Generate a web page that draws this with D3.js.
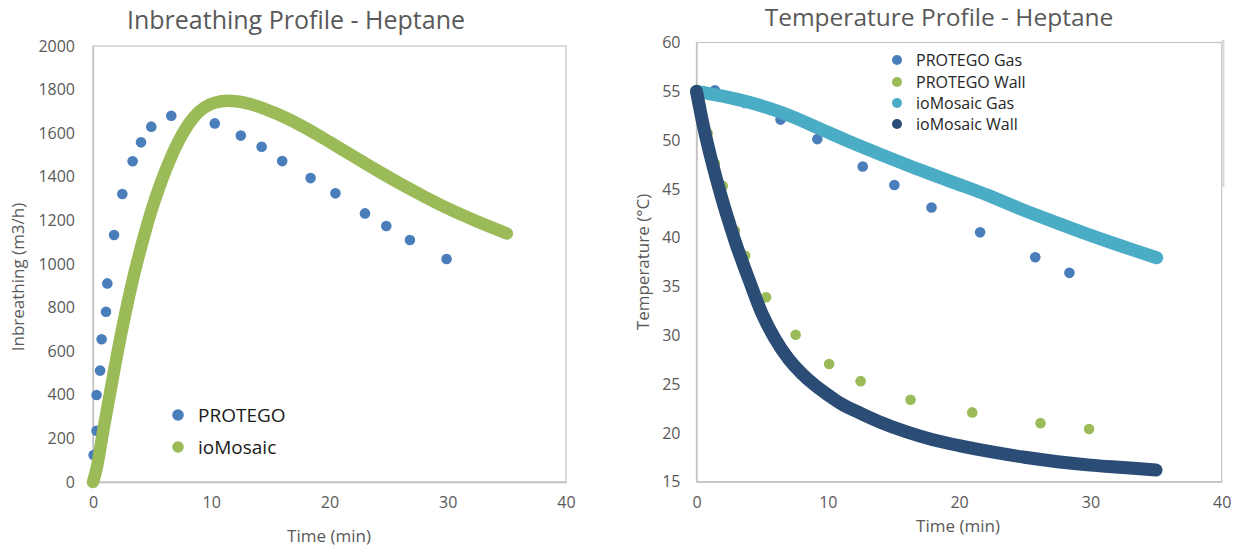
<!DOCTYPE html>
<html><head><meta charset="utf-8">
<script src="https://cdn.jsdelivr.net/npm/d3@7"></script>
<style>
html,body{margin:0;padding:0;background:#fff;}
text{font-family:"Open Sans",Lato,sans-serif;}
</style></head>
<body>
<svg id="c" width="1245" height="550"></svg>
<script>
// ---- Left chart: Inbreathing profile ----
const protegoT = [0, 0.05, 0.3, 0.3, 0.6, 0.73, 1.1, 1.21, 1.78, 2.48, 3.35, 4.06, 4.93, 6.62, 10.3, 12.5, 14.26, 16.0, 18.4, 20.5, 23.0, 24.8, 26.8, 29.9];
const protegoV = [0, 124, 235, 399, 511, 655, 781, 911, 1133, 1321, 1471, 1558, 1630, 1680, 1645, 1589, 1538, 1472, 1394, 1324, 1232, 1174, 1110, 1023];
const iomT = [0, 0.3, 0.8, 1.5, 2.2, 2.9, 3.6, 4.3, 5.0, 5.8, 6.6, 7.4, 8.2, 9.0, 9.9, 10.8, 11.8, 12.8, 14.0, 15.5, 17.0, 18.5, 20.0, 22.0, 24.0, 26.0, 28.0, 30.0, 32.5, 35.0];
const iomV = [0, 60, 215, 425, 630, 815, 980, 1125, 1255, 1382, 1490, 1580, 1650, 1700, 1732, 1746, 1748, 1740, 1722, 1690, 1652, 1608, 1560, 1495, 1430, 1368, 1310, 1255, 1195, 1140];
const leftYTicks = [0, 200, 400, 600, 800, 1000, 1200, 1400, 1600, 1800, 2000];
const xTicks = [0, 10, 20, 30, 40];

// ---- Right chart: Temperature profile ----
const pGasT = [0, 1.4, 3.7, 6.4, 9.2, 12.66, 15.07, 17.9, 21.6, 25.8, 28.4];
const pGasV = [55, 55.1, 53.8, 52.1, 50.1, 47.3, 45.4, 43.1, 40.55, 38.0, 36.4];
const pWallT = [0, 0.85, 1.4, 2.0, 2.93, 3.7, 5.3, 7.55, 10.1, 12.5, 16.3, 21.0, 26.2, 29.9];
const pWallV = [55, 50.7, 47.6, 45.3, 40.7, 38.15, 33.9, 30.06, 27.06, 25.3, 23.4, 22.1, 21.0, 20.4];
const iGasT = [0, 0.65, 2.0, 4.2, 6.74, 9.25, 11.8, 14.36, 16.9, 19.5, 22.1, 24.6, 27.2, 29.7, 32.25, 35.05];
const iGasV = [55, 54.85, 54.5, 53.8, 52.7, 51.25, 49.75, 48.35, 47.0, 45.7, 44.4, 43.0, 41.65, 40.4, 39.2, 37.95];
const iWallT = [0, 0.5, 1, 1.5, 2, 2.5, 3, 3.5, 4, 5, 6, 7, 8, 9, 10, 11, 12.5, 14, 16, 18, 20, 22.5, 25, 27.5, 30, 32.5, 35];
const iWallV = [55, 51.6, 48.7, 46.1, 43.7, 41.5, 39.4, 37.5, 35.7, 32.2, 29.6, 27.6, 26.1, 24.9, 23.9, 23.0, 22.0, 21.1, 20.1, 19.3, 18.7, 18.05, 17.5, 17.05, 16.7, 16.45, 16.2];
const rightYTicks = [15, 20, 25, 30, 35, 40, 45, 50, 55, 60];

const C_BLUE = "#4a7ebb", C_GREEN = "#9bbb59", C_TEAL = "#4bacc6", C_NAVY = "#2a4c75";
const TXT = "#595959";

const svg = d3.select("#c");

function frame(g, x, y, yTicks, xt, yLabelGap) {
  const [x0, x1] = x.range(), [y0, y1] = y.range();
  g.append("rect").attr("x", x0).attr("y", y1).attr("width", x1 - x0).attr("height", y0 - y1)
    .attr("fill", "none").attr("stroke", "#c8c8c8").attr("stroke-width", 1.3);
  const ya = g.append("g").attr("transform", `translate(${x0},0)`)
    .call(d3.axisLeft(y).tickValues(yTicks).tickFormat(d3.format("d")).tickSize(0).tickPadding(yLabelGap));
  const xa = g.append("g").attr("transform", `translate(0,${y0})`)
    .call(d3.axisBottom(x).tickValues(xt).tickFormat(d3.format("d")).tickSize(0).tickPadding(15));
  [ya, xa].forEach(a => {
    a.select(".domain").attr("stroke", "#bfbfbf").attr("stroke-width", 1.3);
    a.selectAll("text").attr("fill", TXT).style("font-size", "16px").style("font-family", "'Open Sans', sans-serif");
  });
}

// Left
const xL = d3.scaleLinear().domain([0, 40]).range([93, 566]);
const yL = d3.scaleLinear().domain([0, 2000]).range([482, 46]);
const gL = svg.append("g");
frame(gL, xL, yL, leftYTicks, xTicks, 18);
gL.append("text").attr("x", 296).attr("y", 29).attr("text-anchor", "middle")
  .attr("fill", TXT).style("font-size", "25px").text("Inbreathing Profile - Heptane");
gL.append("text").attr("transform", "translate(24,277) rotate(-90)").attr("text-anchor", "middle")
  .attr("fill", TXT).style("font-size", "17px").text("Inbreathing (m3/h)");
gL.append("text").attr("x", 329).attr("y", 542).attr("text-anchor", "middle")
  .attr("fill", TXT).style("font-size", "17px").text("Time (min)");

gL.append("g").selectAll("circle").data(protegoT.map((t, i) => [t, protegoV[i]])).join("circle")
  .attr("cx", d => xL(d[0])).attr("cy", d => yL(d[1])).attr("r", 5.3).attr("fill", C_BLUE);
const curve = d3.curveCatmullRom.alpha(0.5);
const lineL = d3.line().x(d => xL(d[0])).y(d => yL(d[1])).curve(curve);
gL.append("path").datum(iomT.map((t, i) => [t, iomV[i]])).attr("d", lineL)
  .attr("fill", "none").attr("stroke", C_GREEN).attr("stroke-width", 12.5)
  .attr("stroke-linecap", "round").attr("stroke-linejoin", "round");

const legL = [["PROTEGO", C_BLUE, 415], ["ioMosaic", C_GREEN, 447]];
legL.forEach(([name, col, yy]) => {
  gL.append("circle").attr("cx", 178).attr("cy", yy).attr("r", 5.8).attr("fill", col);
  gL.append("text").attr("x", 198).attr("y", yy + 7).attr("fill", "#1a1a1a")
    .style("font-size", "19px").text(name);
});

// Right
const xR = d3.scaleLinear().domain([0, 40]).range([696.5, 1221.7]);
const yR = d3.scaleLinear().domain([15, 60]).range([481.7, 42.5]);
const gR = svg.append("g");
frame(gR, xR, yR, rightYTicks, xTicks, 16);
gR.append("rect").attr("x", 1221.5).attr("y", 40).attr("width", 3).attr("height", 147).attr("fill", "#d9d9d9");
gR.append("text").attr("x", 939).attr("y", 25.5).attr("text-anchor", "middle")
  .attr("fill", TXT).style("font-size", "24.5px").text("Temperature Profile - Heptane");
gR.append("text").attr("transform", "translate(649,262) rotate(-90)").attr("text-anchor", "middle")
  .attr("fill", TXT).style("font-size", "17px").text("Temperature (°C)");
gR.append("text").attr("x", 958).attr("y", 532).attr("text-anchor", "middle")
  .attr("fill", TXT).style("font-size", "17px").text("Time (min)");

const lineR = d3.line().x(d => xR(d[0])).y(d => yR(d[1])).curve(curve);
function dots(T, V, col) {
  gR.append("g").selectAll("circle").data(T.map((t, i) => [t, V[i]])).join("circle")
    .attr("cx", d => xR(d[0])).attr("cy", d => yR(d[1])).attr("r", 5.3).attr("fill", col);
}
function band(T, V, col) {
  gR.append("path").datum(T.map((t, i) => [t, V[i]])).attr("d", lineR)
    .attr("fill", "none").attr("stroke", col).attr("stroke-width", 13)
    .attr("stroke-linecap", "round").attr("stroke-linejoin", "round");
}
dots(pGasT, pGasV, C_BLUE);
dots(pWallT, pWallV, C_GREEN);
band(iGasT, iGasV, C_TEAL);
band(iWallT, iWallV, C_NAVY);

const legR = [["PROTEGO Gas", C_BLUE, 60], ["PROTEGO Wall", C_GREEN, 82], ["ioMosaic Gas", C_TEAL, 103], ["ioMosaic Wall", C_NAVY, 124]];
legR.forEach(([name, col, yy]) => {
  gR.append("circle").attr("cx", 897).attr("cy", yy).attr("r", 5).attr("fill", col);
  gR.append("text").attr("x", 916).attr("y", yy + 6).attr("fill", "#262626")
    .style("font-size", "16px").text(name);
});
</script>
</body></html>
